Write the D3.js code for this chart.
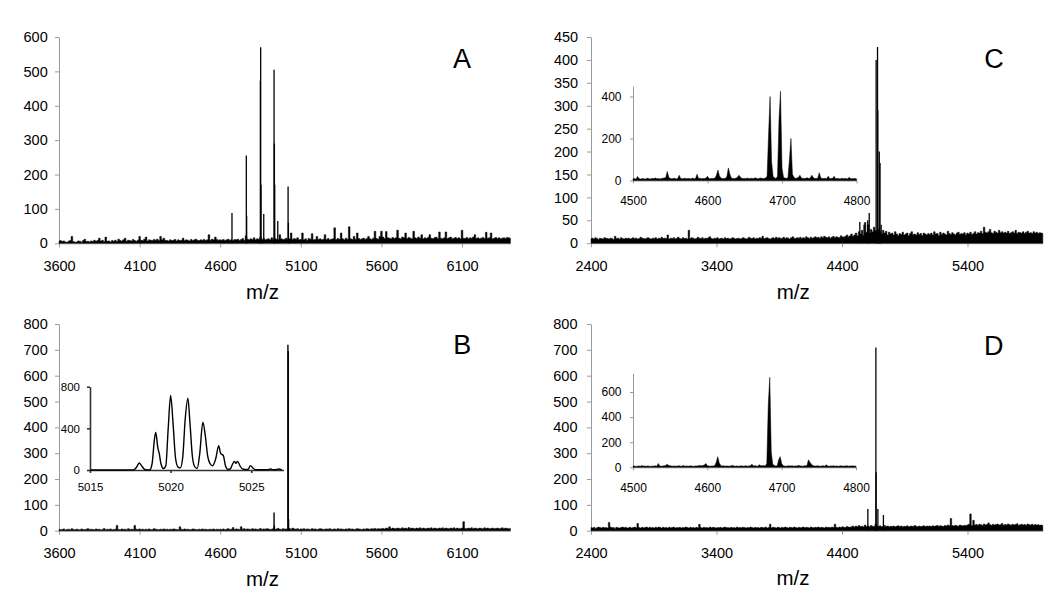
<!DOCTYPE html>
<html><head><meta charset="utf-8">
<script src="https://cdn.jsdelivr.net/npm/d3@7"></script>
<style>body{margin:0;background:#fff}svg{display:block}</style>
</head><body><svg id="c" width="1050" height="598"></svg>
<script>
const FONT = '"Liberation Sans", Arial, sans-serif';

// ---------- Panel A (3600-6400, noise every 10 Da) ----------
const A_noiseStart = 3600, A_noiseStep = 10;
const A_noise = [
 6,8,5,7,4,3,6,8,20,5, 3,4,7,6,3,8,12,5,6,4, 7,5,9,6,8,15,7,9,5,18, 6,7,4,8,6,9,5,12,8,7, 10,15,6,9,8,7,11,8,6,9,
 20,9,8,12,18,7,10,9,8,11, 9,12,8,20,10,15,9,8,7,10, 8,9,11,7,10,8,9,15,8,10, 9,7,11,8,10,12,9,8,10,9, 11,8,10,25,9,12,10,18,11,9,
 10,9,11,8,10,12,9,10,8,11, 10,12,8,11,14,9,22,12,10,13, 11,16,10,13,12,18,11,14,10,12, 13,10,16,11,14,12,10,25,13,11, 12,15,10,13,30,11,14,12,16,10,
 11,30,10,13,9,14,12,28,10,11, 20,11,13,10,12,25,11,14,10,12, 13,45,11,14,12,30,13,10,15,12, 48,13,11,20,12,30,14,11,13,15, 12,14,20,13,11,15,35,14,12,20,
 35,18,14,34,16,15,13,17,14,16, 38,15,13,18,16,30,14,17,15,13, 35,16,14,18,15,25,13,16,14,17, 25,15,13,16,18,14,33,15,13,16, 33,14,16,18,13,15,17,14,16,13,
 38,15,14,17,13,16,15,18,25,14, 16,13,15,17,14,32,15,16,30,13, 15,17,14,16,13,15,16,14,17,16, 15
];
const A_peakMz  = [4673,4762,4764,4849,4851,4853,4870,4934,4936,4938,4957,5021,5023];
const A_peakInt = [88,255,80,473,570,170,85,505,290,170,65,165,60];
const A_xTicks = [3600,4100,4600,5100,5600,6100];
const A_yTicks = [0,100,200,300,400,500,600];

// ---------- Panel B ----------
const B_noiseStart = 3600, B_noiseStep = 10;
const B_noise = [
 6,4,5,7,3,5,6,4,8,5, 4,6,5,3,7,5,4,6,8,5, 6,5,4,7,5,6,3,5,9,4, 6,5,7,4,5,6,20,5,4,7, 5,6,4,8,5,6,5,20,6,5,
 7,5,6,4,6,5,7,4,5,8, 6,5,4,6,5,7,5,6,4,6, 5,7,6,5,4,15,6,5,7,5, 6,4,5,7,6,5,4,6,5,7, 5,6,4,5,6,5,7,4,6,5,
 6,5,7,4,6,8,5,6,12,5, 7,6,5,15,6,8,5,7,6,5, 8,6,7,5,6,9,5,7,6,8, 7,5,6,8,5,7,9,6,5,8, 6,7,5,9,6,10,7,6,8,5,
 7,6,8,5,7,6,5,8,6,7, 5,6,8,7,5,6,7,6,8,5, 6,7,5,8,6,7,6,5,7,6, 8,6,7,5,6,8,7,6,5,7, 6,8,7,6,8,7,9,6,8,7,
 8,9,7,10,9,15,8,10,9,8, 10,9,8,11,9,10,8,12,9,10, 9,8,10,9,11,8,10,9,8,10, 9,11,8,10,9,8,10,9,11,8, 10,9,8,10,9,11,8,10,9,8,
 10,35,9,8,10,9,11,8,10,9, 8,10,9,8,11,9,10,8,9,10, 8,9,10,8,9,11,8,10,9,8, 9
];
const B_peakMz  = [4934,4936,5020,5022,5024];
const B_peakInt = [70,20,720,695,45];
const B_xTicks = [3600,4100,4600,5100,5600,6100];
const B_yTicks = [0,100,200,300,400,500,600,700,800];
// inset B (profile)
const Bi_mz  = [5015,5017.7,5017.9,5018.05,5018.2,5018.4,5018.7,5018.85,5019.0,5019.08,5019.2,5019.3,5019.4,5019.55,5019.7,5019.85,5020.0,5020.15,5020.3,5020.45,5020.6,5020.75,5020.9,5021.07,5021.2,5021.35,5021.5,5021.65,5021.8,5022.0,5022.15,5022.3,5022.45,5022.6,5022.8,5022.98,5023.1,5023.27,5023.4,5023.55,5023.7,5023.85,5023.95,5024.05,5024.15,5024.3,5024.45,5024.6,5024.8,5024.95,5025.1,5025.25,5025.5,5026.0,5026.2,5026.35,5026.6,5026.7,5026.9];
const Bi_int = [0,0,30,67,40,5,0,60,300,360,220,154,60,15,40,400,716,450,120,30,20,120,480,690,450,130,30,15,150,459,330,130,60,40,110,234,160,138,40,5,10,60,83,65,83,40,10,5,5,42,20,3,2,3,10,2,5,10,2];
const Bi_xTicks = [5015,5020,5025];
const Bi_yTicks = [0,400,800];

// ---------- Panel C (2400-6000, noise every 12 Da) ----------
const C_noiseStart = 2400, C_noiseStep = 12;
const C_noise = [
 10,11,9,12,10,8,11,10,9,12,11,10,9,11,10,8,15,10,11,9,12,10,9,11,10,
 11,9,10,12,10,11,9,10,13,11,10,9,11,12,10,9,11,10,12,9,11,10,13,10,11,
 10,18,9,11,10,12,9,11,13,10,9,12,10,11,9,28,10,12,11,9,10,13,11,10,12,
 9,11,10,12,14,10,9,11,10,12,9,10,11,9,12,10,11,9,10,12,11,9,10,11,9,
 10,12,11,9,10,13,11,10,12,9,11,10,12,11,15,10,11,12,10,9,11,12,10,13,11,
 12,10,11,13,10,12,11,9,12,14,11,10,12,11,13,10,12,11,14,12,10,13,11,12,14,
 12,13,11,14,12,15,13,12,14,11,13,15,12,14,13,12,16,14,13,15,18,14,16,20,15,
 18,22,16,25,20,28,17,45,24,40,22,30,25,35,28,22,30,25,20,28,22,26,18,24,20,
 22,18,25,20,17,21,19,24,18,20,22,17,21,25,19,20,18,23,19,21,17,22,20,18,21,
 19,22,18,25,20,21,17,24,19,22,20,18,26,21,19,23,20,18,22,24,19,21,20,23,18,
 22,20,24,19,21,25,20,23,22,26,21,35,24,22,25,30,23,21,26,24,22,28,23,25,22,
 24,22,26,21,23,25,22,28,21,24,23,22,25,21,24,26,22,23,21,25,22,24,21,23,22,
 21
];
const C_peakMz  = [4542,4576,4605,4617,4672,4683,4685,4697,4703,4712];
const C_peakInt = [46,40,50,66,400,428,290,200,175,40];
const C_xTicks = [2400,3400,4400,5400];
const C_yTicks = [0,50,100,150,200,250,300,350,400,450];
// inset C (4500-4800, every 2 Da)
const Ci_start = 4500, Ci_step = 2;
const Ci_int = [
 8,10,6,19,9,7,8,10,6,9,11,7,8,10,9,12,8,10,7,9,11,12,14,43,15,
 10,8,9,11,7,9,25,10,8,9,11,8,10,9,7,12,8,10,30,9,11,8,10,9,12,
 20,10,8,11,9,12,25,50,22,12,9,10,11,18,60,30,12,10,9,11,14,25,18,10,9,
 10,9,12,8,11,10,9,13,10,8,11,12,9,10,12,20,220,400,90,20,12,10,20,290,425,
 60,15,12,10,14,100,200,30,15,10,12,14,25,12,10,9,11,13,10,12,25,14,10,9,11,
 37,12,10,9,11,8,20,10,9,11,20,8,10,9,7,11,8,10,9,7,15,9,8,10,9,
 8
];
const Ci_xTicks = [4500,4600,4700,4800];
const Ci_yTicks = [0,200,400];

// ---------- Panel D ----------
const D_noiseStart = 2400, D_noiseStep = 12;
const D_noise = [
 12,10,13,9,11,14,12,10,13,11,12,10,32,14,11,12,9,13,11,10,12,14,11,13,10,
 11,13,10,12,14,11,28,12,10,13,11,12,14,10,13,11,12,10,13,11,14,12,10,13,11,
 12,10,13,11,12,14,10,12,11,13,10,12,11,14,12,10,13,11,12,10,13,11,25,12,10,
 13,11,12,10,14,11,13,12,10,12,11,13,10,12,14,11,12,10,13,11,12,10,14,11,12,
 11,13,12,10,12,11,14,12,10,13,11,12,10,13,12,11,14,10,12,25,11,13,12,10,13,
 12,10,13,11,14,12,10,13,12,11,14,12,10,13,11,12,14,11,13,12,10,14,12,11,13,
 12,14,11,13,12,10,14,12,13,11,14,12,25,13,11,14,12,15,13,12,16,14,13,15,18,
 14,18,15,20,16,17,15,22,16,18,15,20,17,16,25,18,16,19,15,17,20,16,18,15,17,
 16,18,15,17,19,16,18,15,17,16,19,15,17,18,16,20,17,15,18,16,17,19,16,18,17,
 18,16,19,17,18,20,17,19,18,16,20,18,22,19,47,20,18,21,19,17,22,20,18,21,19,
 22,25,65,20,40,22,24,21,25,23,20,26,22,24,30,23,21,25,22,24,26,22,23,28,21,
 24,22,26,23,21,25,22,24,27,21,23,25,22,24,21,26,23,22,25,21,24,22,23,21,22,
 20
];
const D_peakMz  = [4606,4670,4672,4686,4730];
const D_peakInt = [84,709,226,84,61];
const D_xTicks = [2400,3400,4400,5400];
const D_yTicks = [0,100,200,300,400,500,600,700,800];
// inset D
const Di_start = 4500, Di_step = 2;
const Di_int = [
 8,10,7,9,11,8,15,9,10,8,11,9,7,10,9,12,8,30,11,9,10,12,14,25,15,
 12,10,9,11,8,10,13,9,10,15,8,11,9,10,12,9,8,11,10,13,15,12,14,18,30,
 12,10,9,11,10,14,40,85,35,15,10,12,9,11,10,8,12,15,10,9,11,8,10,12,9,
 10,12,9,11,13,25,10,12,11,9,20,13,12,14,11,30,500,717,120,25,15,10,12,60,85,
 30,12,10,9,11,13,10,12,9,11,10,14,12,10,9,11,13,12,60,40,25,14,11,10,12,
 10,9,11,12,8,20,10,9,11,10,12,9,11,8,10,12,9,11,10,13,9,11,10,12,9,
 10
];
const Di_xTicks = [4500,4600,4700,4800];
const Di_yTicks = [0,200,400,600];

// ---------- drawing ----------
const svg = d3.select("#c");
svg.append("rect").attr("width",1050).attr("height",598).attr("fill","#fff");

function frame(o){
  const x = d3.scaleLinear().domain(o.xd).range(o.xr);
  const y = d3.scaleLinear().domain(o.yd).range(o.yr);
  const g = svg.append("g");
  const ya = g.append("g").attr("transform",`translate(${o.xr[0]},0)`)
    .call(d3.axisLeft(y).tickValues(o.yt).tickFormat(d3.format("d")).tickSize(o.tk).tickPadding(o.yp).tickSizeOuter(0));
  const xa = g.append("g").attr("transform",`translate(0,${o.yr[0]})`)
    .call(d3.axisBottom(x).tickValues(o.xt).tickFormat(d3.format("d")).tickSize(o.tk).tickPadding(o.xp).tickSizeOuter(0));
  [ya,xa].forEach(a=>{
    a.attr("font-family",FONT).attr("font-size",o.fs);
    a.select(".domain").attr("stroke",o.ac).attr("stroke-width",o.aw);
    a.selectAll(".tick line").attr("stroke",o.ac).attr("stroke-width",o.aw);
    a.selectAll("text").attr("fill","#000");
  });
  return {x,y,g};
}
function sticks(p, mz, val, w, col){
  p.g.append("g").selectAll("line").data(mz).join("line")
    .attr("x1",d=>p.x(d)).attr("x2",d=>p.x(d))
    .attr("y1",p.y(0)).attr("y2",(d,i)=>p.y(val[i]))
    .attr("stroke",col||"#000").attr("stroke-width",w);
}
function band(p, start, step, val, curve){
  const mz = d3.range(val.length).map(i=>start+i*step);
  const area = d3.area().x(d=>p.x(d)).y0(p.y(0)).y1((d,i)=>p.y(val[i])).curve(curve);
  p.g.append("path").attr("d", area(mz)).attr("fill","#000")
    .attr("stroke","#000").attr("stroke-width",0.5).attr("stroke-linejoin","miter");
}
function label(x,y,t,fs){
  svg.append("text").attr("x",x).attr("y",y).attr("text-anchor","middle")
    .attr("font-family",FONT).attr("font-size",fs).attr("fill","#000").text(t);
}

const MAIN = {tk:4, fs:14.5, ac:"#9a9a9a", aw:1};

// A
const pA = frame({...MAIN, xd:[3600,6400], xr:[59,510.4], yd:[0,600], yr:[243.3,37], xt:A_xTicks, yt:A_yTicks, yp:7.3, xp:13.8});
band(pA, A_noiseStart, A_noiseStep, A_noise, d3.curveStep);
sticks(pA, A_peakMz, A_peakInt, 1.3);
label(462,68.3,"A",27); label(262.5,298.7,"m/z",20.5);

// B
const pB = frame({...MAIN, xd:[3600,6400], xr:[59,510.4], yd:[0,800], yr:[530.7,324], xt:B_xTicks, yt:B_yTicks, yp:7.3, xp:13});
band(pB, B_noiseStart, B_noiseStep, B_noise, d3.curveStep);
sticks(pB, B_peakMz, B_peakInt, 1.4);
label(462.3,354.3,"B",27); label(262.5,586,"m/z",20.5);
const pBi = frame({tk:3, fs:11.5, ac:"#333", aw:1.6, xd:[5015,5027], xr:[90,283.5], yd:[0,800], yr:[470,386.7], xt:Bi_xTicks, yt:Bi_yTicks, yp:7, xp:9.5});
pBi.g.append("path")
  .attr("d", d3.line().x(d=>pBi.x(d)).y((d,i)=>pBi.y(Bi_int[i])).curve(d3.curveMonotoneX)(Bi_mz))
  .attr("fill","none").attr("stroke","#000").attr("stroke-width",1.4);

// C
const pC = frame({...MAIN, xd:[2400,6000], xr:[591,1042.8], yd:[0,450], yr:[243.2,37], xt:C_xTicks, yt:C_yTicks, yp:8.9, xp:14});
band(pC, C_noiseStart, C_noiseStep, C_noise, d3.curveStep);
sticks(pC, C_peakMz, C_peakInt, 1.3);
label(994,68.3,"C",27); label(793.3,299,"m/z",20.5);
const pCi = frame({tk:3, fs:12, ac:"#9a9a9a", aw:1, xd:[4500,4800], xr:[633,856.5], yd:[0,450], yr:[180.5,86], xt:Ci_xTicks, yt:Ci_yTicks, yp:8.5, xp:13});
band(pCi, Ci_start, Ci_step, Ci_int, d3.curveLinear);

// D
const pD = frame({...MAIN, xd:[2400,6000], xr:[591,1042.8], yd:[0,800], yr:[530.7,324], xt:D_xTicks, yt:D_yTicks, yp:9.5, xp:13.3});
band(pD, D_noiseStart, D_noiseStep, D_noise, d3.curveStep);
sticks(pD, D_peakMz, D_peakInt, 1.3);
label(993.8,355,"D",27); label(793,585,"m/z",20.5);
const pDi = frame({tk:3, fs:12, ac:"#9a9a9a", aw:1, xd:[4500,4800], xr:[633,856], yd:[0,750], yr:[467.3,373.2], xt:Di_xTicks, yt:Di_yTicks, yp:8.5, xp:13});
band(pDi, Di_start, Di_step, Di_int, d3.curveLinear);
</script>
</body></html>
